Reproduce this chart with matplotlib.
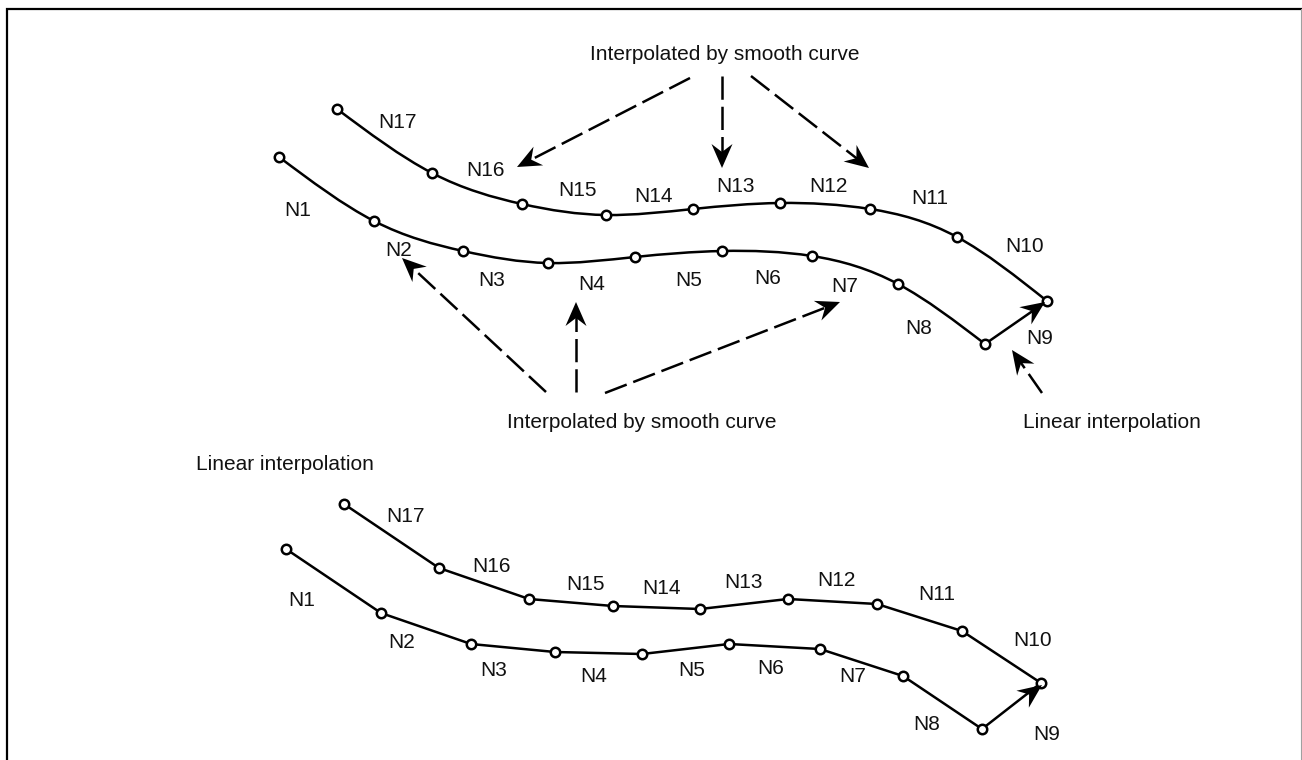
import matplotlib
matplotlib.use("Agg")
import matplotlib.pyplot as plt
from matplotlib.path import Path
from matplotlib.patches import PathPatch, Polygon
import numpy as np

plt.rcParams['font.family'] = ['Liberation Sans', 'DejaVu Sans']

W, H = 1302, 760

upper_outer_x = [337, 432, 522, 606, 693, 780, 870, 957, 1047]
upper_outer_y = [109, 173, 204, 215, 209, 203, 209, 237, 301]
upper_inner_x = [279, 374, 463, 548, 635, 722, 812, 898, 985]
upper_inner_y = [157, 221, 251, 263, 257, 251, 256, 284, 344]
lower_outer_x = [344, 439, 529, 613, 700, 788, 877, 962, 1041]
lower_outer_y = [504, 568, 599, 606, 609, 599, 604, 631, 683]
lower_inner_x = [286, 381, 471, 555, 642, 729, 820, 903, 982]
lower_inner_y = [549, 613, 644, 652, 654, 644, 649, 676, 729]

labels = ['N1', 'N2', 'N3', 'N4', 'N5', 'N6', 'N7', 'N8', 'N9', 'N10', 'N11',
          'N12', 'N13', 'N14', 'N15', 'N16', 'N17']
upper_label_x = [298, 399, 492, 592, 689, 768, 845, 919, 1040, 1025, 930, 828, 736, 653, 577, 485, 397]
upper_label_y = [211, 251, 281, 285, 280, 278, 286, 328, 339, 247, 199, 186, 187, 196, 191, 171, 122]
lower_label_x = [302, 402, 494, 594, 692, 771, 853, 927, 1047, 1033, 937, 836, 744, 661, 585, 492, 405]
lower_label_y = [600, 642, 671, 676, 671, 669, 676, 724, 734, 641, 594, 581, 582, 589, 585, 566, 516]

dashed_tail_x = [690, 722, 751, 546, 576, 605, 1042]
dashed_tail_y = [78, 76, 76, 392, 392, 393, 393]
dashed_tip_x = [517, 722, 869, 402, 576, 840, 1012]
dashed_tip_y = [167, 168, 168, 258, 302, 302, 350]

captions = ['Interpolated by smooth curve', 'Interpolated by smooth curve',
            'Linear interpolation', 'Linear interpolation']
caption_x = [725, 642, 1112, 285]
caption_y = [55, 423, 423, 465]

fig = plt.figure(figsize=(W / 100, H / 100), dpi=100)
ax = fig.add_axes([0, 0, 1, 1])
ax.set_xlim(0, W)
ax.set_ylim(H, 0)
ax.axis('off')

LW = 1.8
TEXT = '#111111'
FS = 15


def smooth(xs, ys):
    # natural cubic spline through the nodes, drawn as Bezier segments
    p = np.column_stack([xs, ys]).astype(float)
    n = len(p)
    A = np.zeros((n, n))
    b = np.zeros((n, 2))
    A[0, :2] = [2, 1]
    b[0] = 3 * (p[1] - p[0])
    A[-1, -2:] = [1, 2]
    b[-1] = 3 * (p[-1] - p[-2])
    for i in range(1, n - 1):
        A[i, i - 1:i + 2] = [1, 4, 1]
        b[i] = 3 * (p[i + 1] - p[i - 1])
    t = np.linalg.solve(A, b)
    verts = [p[0]]
    codes = [Path.MOVETO]
    for i in range(n - 1):
        verts += [p[i] + t[i] / 3, p[i + 1] - t[i + 1] / 3, p[i + 1]]
        codes += [Path.CURVE4] * 3
    ax.add_patch(PathPatch(Path(verts, codes), fc='none', ec='black', lw=LW, zorder=2))


def head(x0, y0, x1, y1, length=24, width=10.5, notch=16):
    d = np.array([x1 - x0, y1 - y0], float)
    d /= np.hypot(*d)
    n = np.array([-d[1], d[0]])
    tip = np.array([x1, y1], float)
    pts = [tip, tip - d * length + n * width, tip - d * notch, tip - d * length - n * width]
    ax.add_patch(Polygon(pts, closed=True, fc='black', ec='none', zorder=5))


def nodes(xs, ys):
    ax.plot(xs, ys, ls='none', marker='o', ms=6.8, mfc='white', mec='black', mew=1.8, zorder=4)


# frame, open at the bottom
ax.plot([6.5, 6.5, 1302], [H, 8.5, 8.5], color='black', lw=1.6, solid_joinstyle='miter', zorder=1)
ax.plot([1301, 1301], [8.5, H], color='#a0a0a0', lw=0.8, zorder=1)

# upper figure
smooth(upper_outer_x, upper_outer_y)
smooth(upper_inner_x, upper_inner_y)
# lower figure
ax.plot(lower_outer_x, lower_outer_y, color='black', lw=LW, zorder=2)
ax.plot(lower_inner_x, lower_inner_y, color='black', lw=LW, zorder=2)

# N9 blocks
ax.plot([upper_inner_x[-1], upper_outer_x[-1]], [upper_inner_y[-1], upper_outer_y[-1]], color='black', lw=LW, zorder=2)
ax.plot([lower_inner_x[-1], lower_outer_x[-1]], [lower_inner_y[-1], lower_outer_y[-1]], color='black', lw=LW, zorder=2)

nodes(upper_outer_x, upper_outer_y)
nodes(upper_inner_x, upper_inner_y)
nodes(lower_outer_x, lower_outer_y)
nodes(lower_inner_x, lower_inner_y)

head(upper_inner_x[-1], upper_inner_y[-1], upper_outer_x[-1] - 2, upper_outer_y[-1] + 1)
head(lower_inner_x[-1], lower_inner_y[-1], lower_outer_x[-1] + 1, lower_outer_y[-1] + 2)

# dashed leaders
for xa, ya, xb, yb in zip(dashed_tail_x, dashed_tail_y, dashed_tip_x, dashed_tip_y):
    d = np.array([xb - xa, yb - ya], float)
    d /= np.hypot(*d)
    ax.plot([xa, xb - d[0] * 14], [ya, yb - d[1] * 14], color='black', lw=LW,
            ls=(0, (9.3, 2.8)), dash_capstyle='butt', zorder=2)
    head(xa, ya, xb, yb)

# labels
for s, x, y in zip(labels, upper_label_x, upper_label_y):
    ax.text(x, y, s, ha='center', va='center', fontsize=FS, color=TEXT)
for s, x, y in zip(labels, lower_label_x, lower_label_y):
    ax.text(x, y, s, ha='center', va='center', fontsize=FS, color=TEXT)
for s, x, y in zip(captions, caption_x, caption_y):
    ax.text(x, y, s, ha='center', va='center', fontsize=FS, color=TEXT)

fig.savefig('out.png', dpi=100)
